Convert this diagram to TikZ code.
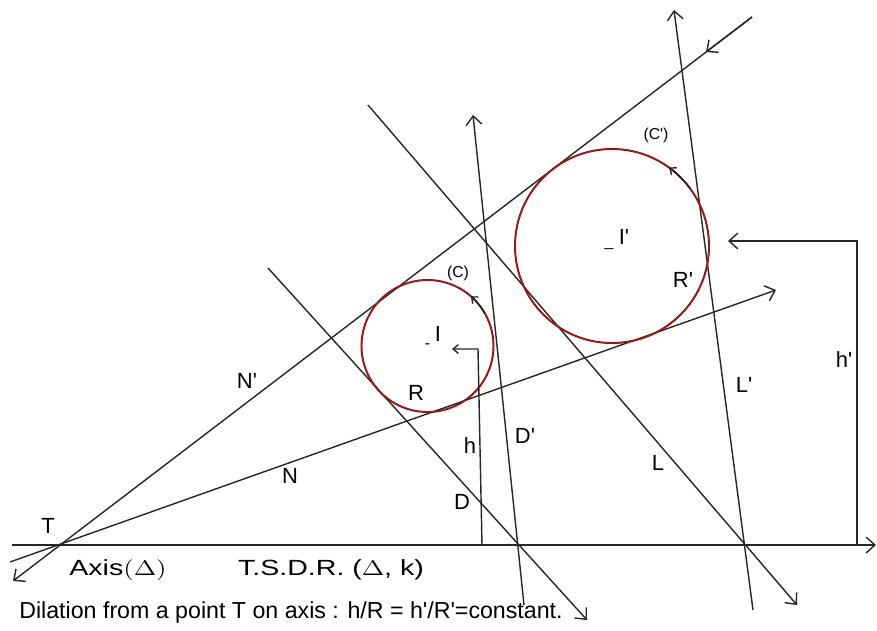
\documentclass[tikz,border=0pt]{standalone}
\usepackage{fontspec}
\setmainfont{Liberation Sans}
\usetikzlibrary{arrows.meta,calc}
\newcommand{\q}{\textquotesingle}
\tikzset{
  ln/.style={line width=0.8pt,draw=black!85},
  arr/.style={ln,-{Straight Barb[length=5pt,width=9pt]}},
  rarr/.style={ln,{Straight Barb[length=5pt,width=9pt]}-},
  sarr/.style={ln,-{Straight Barb[length=3pt,width=5pt]}},
  circ/.style={draw=black!80,line width=1.1pt,postaction={draw=red!90!black,line width=0.6pt}},
  lbl/.style={font=\fontsize{12.5}{14}\selectfont,inner sep=1pt},
  wide/.style={font=\fontsize{12.5}{14}\selectfont,inner sep=1pt,xscale=1.3},
  tag/.style={font=\fontsize{9}{11}\selectfont,inner sep=1pt},
}
\begin{document}
\begin{tikzpicture}[x=0.02cm,y=-0.02cm]
  \useasboundingbox (0,0) rectangle (877,630);
  % centres and pole
  \coordinate (T) at (58,544);
  \coordinate (I) at (427.5,346);
  \coordinate (Ip) at (612,246);
  % axis
  \coordinate (axl) at (12,545); \coordinate (axr) at (876,545);
  \draw[arr] (axl) -- (axr);
  % tangents through T
  \coordinate (npa) at (13,581); \coordinate (npb) at (752,17); \coordinate (npm) at (706,52);
  \draw[rarr] (npa) -- (npb);
  \draw[arr] (npb) -- (npm);
  \coordinate (na) at (10,562); \coordinate (nb) at (776,290);
  \draw[arr] (na) -- (nb);
  % D and D'
  \coordinate (da) at (268,268); \coordinate (db) at (587,620);
  \draw[arr] (da) -- (db);
  \coordinate (dpa) at (524,605); \coordinate (dpb) at (473,115);
  \draw[arr] (dpa) -- (dpb);
  % L and L'
  \coordinate (la) at (368,105); \coordinate (lb) at (797,605);
  \draw[arr] (la) -- (lb);
  \coordinate (lpa) at (753,610); \coordinate (lpb) at (674,10);
  \draw[arr] (lpa) -- (lpb);
  % circles (C) and (C')
  \draw[circ] (I) circle[radius=66];
  \draw[circ] (Ip) circle[radius=97];
  \draw[sarr] ($(I)+(-30:66)$) arc[start angle=-30,end angle=-49,radius=66];
  \draw[sarr] ($(Ip)+(-36:97)$) arc[start angle=-36,end angle=-54,radius=97];
  % heights h and h'
  \coordinate (hb) at (482,545); \coordinate (hc) at (478,349); \coordinate (ht) at (452,349);
  \draw[sarr] (hb) -- (hc) -- (ht);
  \coordinate (hpb) at (857,545); \coordinate (hpc) at (857,241); \coordinate (hpt) at (728,241);
  \draw[arr] (hpb) -- (hpc) -- (hpt);
  % labels
  \node[tag] (cI) at (I) {-};
  \node[tag] (cIp) at ($(Ip)+(-3,2)$) {\_};
  \node[lbl] (lI) at (438,334) {I};
  \node[lbl] (lIp) at (624,237) {I\q};
  \node[tag] (lC) at (458,273) {(C)};
  \node[tag] (lCp) at (656,135) {(C\q)};
  \node[lbl] (lR) at (416,393) {R};
  \node[lbl] (lRp) at (683,280) {R\q};
  \node[lbl] (lNp) at (247,381) {N\q};
  \node[lbl] (lN) at (290,476) {N};
  \node[lbl] (lh) at (470,446) {h};
  \node[lbl] (lDp) at (525,436) {D\q};
  \node[lbl] (lD) at (462,502) {D};
  \node[lbl] (lL) at (658,463) {L};
  \node[lbl] (lLp) at (744,385) {L\q};
  \node[lbl] (lhp) at (844,360) {h\q};
  \node[lbl] (lT) at (48,526) {T};
  \node[wide] (lax) at (118,570) {Axis$(\Delta)$};
  \node[wide] (ltsdr) at (331,570) {T.S.D.R. ($\Delta$, k)};
  \node[lbl,font=\fontsize{13.2}{15}\selectfont] (ldil) at (291,612) {Dilation from a point T on axis : h/R = h\q/R\q=constant.};
\end{tikzpicture}
\end{document}
